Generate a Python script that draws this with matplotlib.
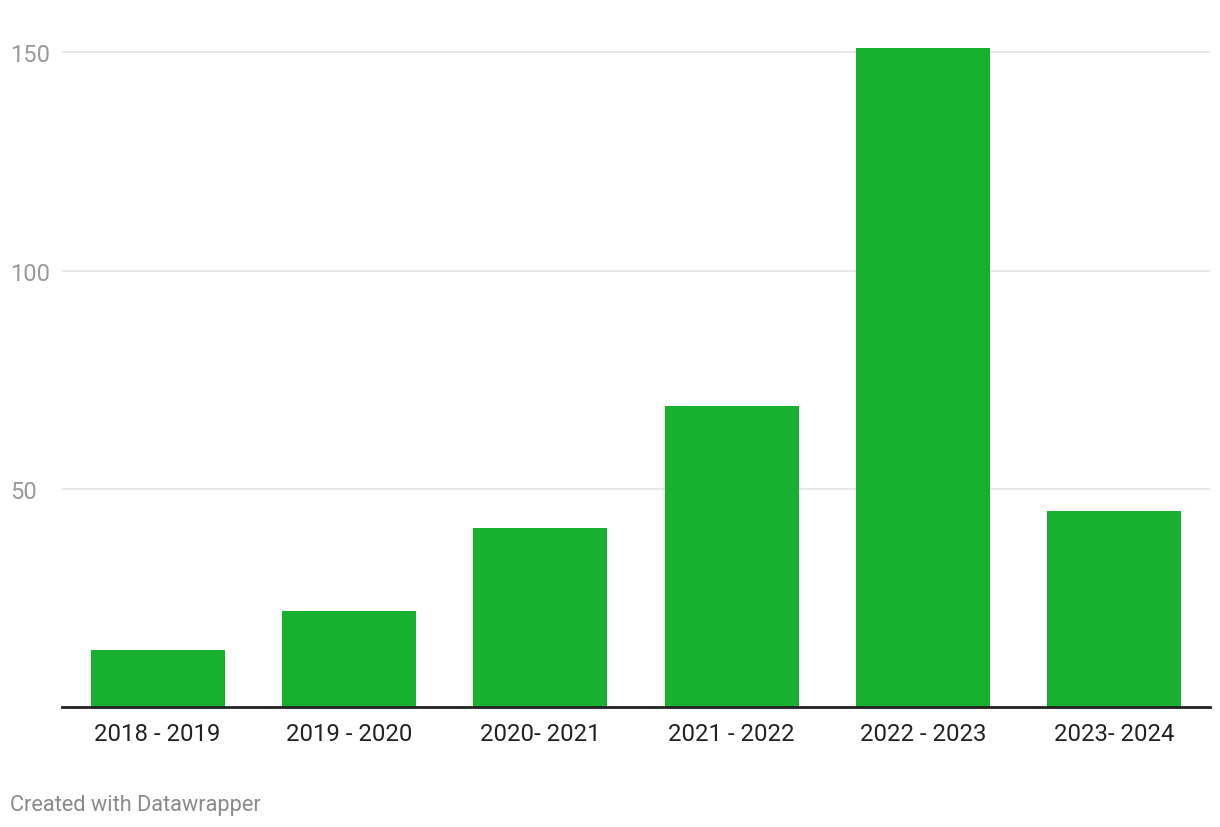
import matplotlib
matplotlib.use("Agg")
import matplotlib.pyplot as plt

categories = ["2018 - 2019", "2019 - 2020", "2020- 2021", "2021 - 2022", "2022 - 2023", "2023- 2024"]
values = [13, 22, 41, 69, 151, 45]
yticks = [50, 100, 150]

plt.rcParams['font.family'] = ['Roboto', 'DejaVu Sans']

W, H = 1220, 828
fig = plt.figure(figsize=(W / 100, H / 100), dpi=100)
left, right = 62, 1210
bottom_px, top_px = 708, 42.5
ax = fig.add_axes([left / W, 1 - bottom_px / H, (right - left) / W, (bottom_px - top_px) / H])

x = list(range(len(categories)))
ax.bar(x, values, width=0.7, color="#18b02f", zorder=3)
ax.set_xlim(-0.5, len(categories) - 0.5)
ax.set_ylim(0, 152.5)

ax.set_yticks(yticks)
ax.set_yticklabels([str(t) for t in yticks])
ax.grid(axis='y', color='#e3e3e3', linewidth=1.2, zorder=0)
ax.tick_params(axis='y', length=0, pad=37.4, labelsize=17, labelcolor='#9a9a9a')
for lab in ax.get_yticklabels():
    lab.set_horizontalalignment('left')

ax.set_xticks(x)
ax.set_xticklabels(categories)
ax.tick_params(axis='x', length=0, pad=10.5, labelsize=17.2, labelcolor='#222222')

for s in ['top', 'right', 'left']:
    ax.spines[s].set_visible(False)
ax.spines['bottom'].set_color('#222222')
ax.spines['bottom'].set_linewidth(2)
ax.spines['bottom'].set_zorder(4)

fig.text(10 / W, 1 - 806 / H, "Created with Datawrapper", ha='left', va='center',
         fontsize=15.7, color='#8a8a8a')

fig.savefig("out.png", dpi=100)
